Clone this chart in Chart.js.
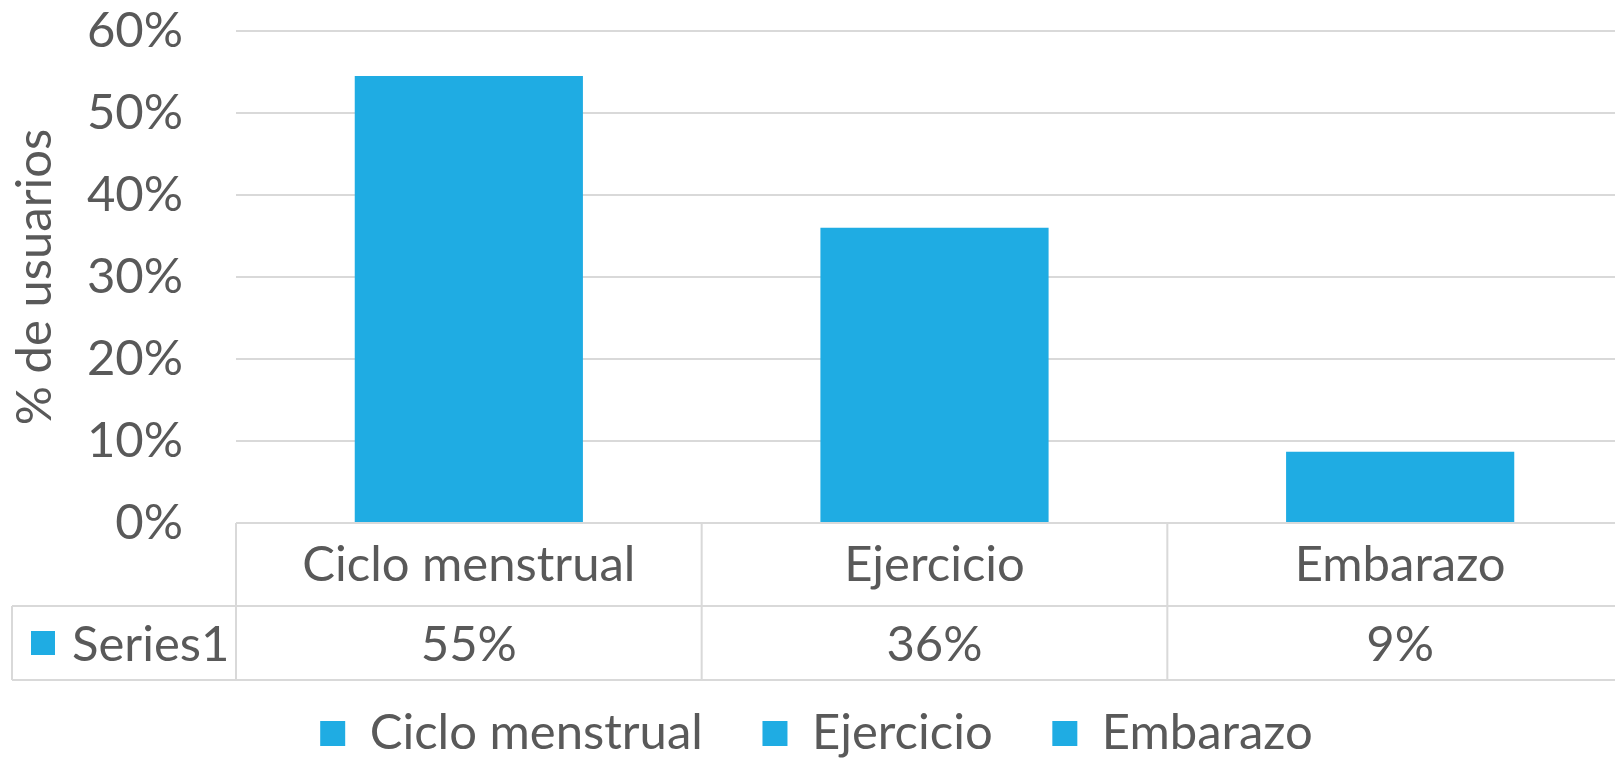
<!DOCTYPE html>
<html>
<head>
<meta charset="utf-8">
<script src="https://cdn.jsdelivr.net/npm/chart.js@4"></script>
<style>
  html, body { margin: 0; padding: 0; background: #fff; overflow: hidden; }
  #wrap { width: 1634px; height: 758px; position: relative; }
</style>
</head>
<body>
<div id="wrap"><canvas id="myChart"></canvas></div>
<script>
var categories = ["Ciclo menstrual", "Ejercicio", "Embarazo"];
var seriesName = "Series1";
var values = [54.5, 36, 8.7];
var yTicks = [0, 10, 20, 30, 40, 50, 60];

var barColor = "#1FACE3";
var textColor = "#595959";
var lineColor = "#D9D9D9";
var font = { family: "Lato, 'Open Sans', sans-serif", size: 49 };

// rows of the data table under the plot
var row1 = 83, row2 = 74, tableLeft = 12;

var dataTable = {
  id: "dataTable",
  afterDraw: function (chart) {
    var c = chart.ctx, a = chart.chartArea, xs = chart.scales.x;
    var cw = xs.width / categories.length;
    var y1 = a.bottom, y2 = y1 + row1, y3 = y2 + row2;
    c.save();
    c.strokeStyle = lineColor;
    c.lineWidth = 2;
    c.beginPath();
    c.moveTo(a.left, y1); c.lineTo(a.right, y1);
    c.moveTo(tableLeft, y2); c.lineTo(a.right, y2);
    c.moveTo(tableLeft, y3); c.lineTo(a.right, y3);
    c.moveTo(tableLeft, y2); c.lineTo(tableLeft, y3);
    for (var i = 0; i <= categories.length; i++) {
      var x = a.left + i * cw;
      c.moveTo(x, y1); c.lineTo(x, y3);
    }
    c.stroke();

    c.fillStyle = textColor;
    c.font = font.size + "px " + font.family;
    c.textBaseline = "middle";
    c.textAlign = "center";
    var ym = (y2 + y3) / 2;
    values.forEach(function (v, i) {
      c.fillText(Math.round(v) + "%", xs.getPixelForValue(i), ym + 2);
    });
    // series key
    c.fillStyle = barColor;
    c.fillRect(31, ym - 12, 24, 24);
    c.fillStyle = textColor;
    c.textAlign = "left";
    c.fillText(seriesName, 72, ym + 2);
    c.restore();
  }
};

var ctx1 = document.getElementById("myChart").getContext("2d");
var myChart1 = new Chart(ctx1, {
  type: "bar",
  data: {
    labels: categories,
    datasets: [
      {
        label: seriesName,
        data: values,
        backgroundColor: barColor,
        borderWidth: 0,
        categoryPercentage: 1,
        barPercentage: 0.49,
      },
    ],
  },
  options: {
    responsive: true,
    maintainAspectRatio: false,
    animation: false,
    layout: { padding: { top: 31, right: 1, left: 0, bottom: 0 } },
    plugins: {
      tooltip: { enabled: false },
      legend: {
        position: "bottom",
        onClick: null,
        maxHeight: 78,
        labels: {
          color: textColor,
          font: font,
          boxWidth: 25,
          boxHeight: 25,
          padding: 29,
          generateLabels: function () {
            return categories.map(function (c, i) {
              var gap = i < categories.length - 1 ? "\u2002\u2009" : "";
              return { text: c + gap, fillStyle: barColor, strokeStyle: barColor, lineWidth: 0, fontColor: textColor };
            });
          },
        },
      },
    },
    scales: {
      x: {
        grid: { display: false },
        border: { display: false },
        ticks: { color: textColor, font: font, padding: 5, maxRotation: 0 },
        afterFit: function (s) { s.height = row1 + row2; },
      },
      y: {
        min: 0,
        max: 60,
        afterBuildTicks: function (s) { s.ticks = yTicks.map(function (v) { return { value: v }; }); },
        grid: { color: lineColor, lineWidth: 2, drawTicks: false },
        border: { display: false },
        ticks: { color: textColor, font: font, padding: 53, callback: function (v) { return v + "%"; } },
        title: { display: true, text: "% de usuarios", color: textColor, font: font, padding: { top: 6, bottom: 0 } },
        afterFit: function (s) { s.width = 236; s.paddingTop = 0; s.paddingBottom = 0; },
      },
    },
  },
  plugins: [dataTable],
});
</script>
</body>
</html>
